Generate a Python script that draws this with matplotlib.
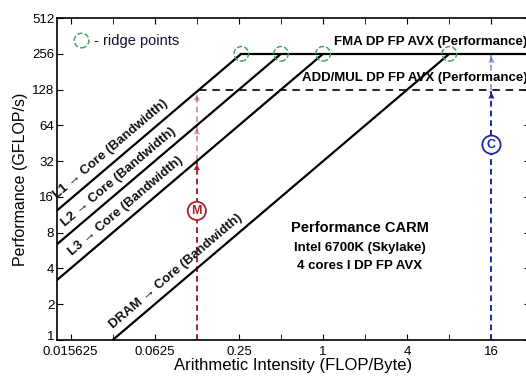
import numpy as np
import matplotlib
matplotlib.use('Agg')
from matplotlib import pyplot as plt
from matplotlib.transforms import ScaledTranslation

plt.rcParams['font.family'] = ['Liberation Sans', 'DejaVu Sans']
narrow = ['Liberation Sans Narrow', 'Liberation Sans', 'DejaVu Sans']

# roofs of the cache-aware roofline model
levels = ['L1', 'L2', 'L3', 'DRAM']
ridge_ai = [0.26, 0.5, 1.0, 8.0]
peak_fma = 256.0
peak_addmul = 128.0
label_start_ai = [0.0137, 0.0156, 0.0176, 0.0346]

# application points
m_ai = 0.125
c_ai = 16.0

xticks = [0.015625, 0.0625, 0.25, 1, 4, 16]
xtick_labels = ['0.015625', '0.0625', '0.25', '1', '4', '16']
yticks = [1, 2, 4, 8, 16, 32, 64, 128, 256, 512]

bw = [peak_fma / r for r in ridge_ai]

fig = plt.figure(figsize=(5.26, 3.76), dpi=100)
ax = fig.add_axes([0.1084, 0.0957, 0.8985, 0.8564])
ax.set_xscale('log', base=2)
ax.set_yscale('log', base=2)
x_lo, x_hi = 0.0125, 30.0
ax.set_xlim(x_lo, x_hi)
ax.set_ylim(1, 512)

# slanted bandwidth roofs up to the FMA peak
for b, r in zip(bw, ridge_ai):
    xs = np.array([x_lo, r])
    ax.plot(xs, b * xs, color='black', lw=1.6, solid_capstyle='butt', zorder=3)

ax.plot([ridge_ai[0], x_hi], [peak_fma, peak_fma], color='black', lw=1.6, zorder=3)
ax.plot([peak_addmul / bw[0], x_hi], [peak_addmul, peak_addmul], color='black',
        lw=1.2, ls=(0, (4.5, 3.5)), zorder=3)

# ridge points
ax.scatter(ridge_ai, [peak_fma] * len(ridge_ai), s=110, facecolors='none',
           edgecolors='#3b9a5c', linewidths=1.0, linestyles='--', zorder=4)
ax.scatter([0.052], [0.93], s=110, facecolors='none', edgecolors='#3b9a5c',
           linewidths=1.0, linestyles='--', transform=ax.transAxes, clip_on=False)
ax.text(0.078, 0.93, '- ridge points', transform=ax.transAxes, fontsize=10.5,
        va='center', color='#111133')

# screen angle of a slope-1 line
p0 = ax.transData.transform((1, 1))
p1 = ax.transData.transform((2, 2))
angle = np.degrees(np.arctan2(p1[1] - p0[1], p1[0] - p0[0]))
nx, ny = -np.sin(np.radians(angle)), np.cos(np.radians(angle))

for name, b, xs in zip(levels, bw, label_start_ai):
    ax.annotate(f'{name} \u2192 Core (Bandwidth)', xy=(xs, b * xs),
                xytext=(nx * 4, ny * 4), textcoords='offset points',
                rotation=angle, rotation_mode='anchor', ha='left', va='bottom',
                fontsize=9.5, fontweight='bold', family=narrow, color='#111111')

ax.text(0.995, peak_fma * 1.12, 'FMA DP FP AVX (Performance)',
        transform=ax.get_yaxis_transform(),
        ha='right', va='bottom', fontsize=9.5, fontweight='bold', family=narrow)
ax.text(0.995, peak_addmul * 1.12, 'ADD/MUL DP FP AVX (Performance)',
        transform=ax.get_yaxis_transform(),
        ha='right', va='bottom', fontsize=9.5, fontweight='bold', family=narrow)

# application M: memory bound, hits the slanted roofs
red = '#a3262b'
m_hits = [b * m_ai for b in bw[:3]][::-1]
ax.plot([m_ai, m_ai], [1, m_hits[0]], color=red, lw=1.4, ls=(0, (3, 2)), zorder=2)
ax.plot([m_ai, m_ai], [m_hits[0], m_hits[-1]], color=red, lw=1.4, ls=(0, (3, 2)),
        alpha=0.45, zorder=2)
for i, y in enumerate(m_hits):
    ax.annotate('', xy=(m_ai, y), xytext=(m_ai, y * 0.8),
                arrowprops=dict(arrowstyle='-|>', color=red, lw=0, mutation_scale=11,
                                alpha=1.0 if i == 0 else 0.45), zorder=4)
ax.text(m_ai, 12.2, 'M', ha='center', va='center', fontsize=9, fontweight='bold',
        family=narrow, color=red,
        bbox=dict(boxstyle='circle,pad=0.25', fc='white', ec=red, lw=1.3), zorder=5)

# application C: compute bound, hits the flat roofs
blue = '#1a2a9c'
ax.plot([c_ai, c_ai], [1, peak_addmul], color=blue, lw=1.4, ls=(0, (3, 2)), zorder=2)
ax.plot([c_ai, c_ai], [peak_addmul, peak_fma], color=blue, lw=1.4, ls=(0, (3, 2)),
        alpha=0.45, zorder=2)
for i, y in enumerate([peak_addmul, peak_fma]):
    ax.annotate('', xy=(c_ai, y), xytext=(c_ai, y * 0.8),
                arrowprops=dict(arrowstyle='-|>', color=blue, lw=0, mutation_scale=11,
                                alpha=1.0 if i == 0 else 0.45), zorder=4)
ax.text(c_ai, 44, 'C', ha='center', va='center', fontsize=9, fontweight='bold',
        family=narrow, color=blue,
        bbox=dict(boxstyle='circle,pad=0.25', fc='white', ec=blue, lw=1.3), zorder=5)

ax.text(0.64, 0.335, 'Performance CARM', transform=ax.transAxes, ha='center',
        fontsize=10.5, fontweight='bold', family=narrow)
ax.text(0.64, 0.277, 'Intel 6700K (Skylake)', transform=ax.transAxes, ha='center',
        fontsize=9.5, fontweight='bold', family=narrow)
ax.text(0.64, 0.219, '4 cores I DP FP AVX', transform=ax.transAxes, ha='center',
        fontsize=9.5, fontweight='bold', family=narrow)

ax.set_xticks(xticks)
ax.set_xticklabels(xtick_labels)
ax.set_xticks([2.0 ** k for k in range(-6, 5)], minor=True)
ax.set_yticks(yticks)
ax.set_yticklabels([str(v) for v in yticks])
ax.yaxis.set_minor_locator(matplotlib.ticker.NullLocator())
ax.tick_params(which='both', direction='in', top=True, right=True, length=4,
               labelsize=9.5)
ax.tick_params(axis='x', pad=4)
ax.tick_params(axis='y', pad=2)
ax.tick_params(which='minor', labelbottom=False)
for s in ax.spines.values():
    s.set_linewidth(1.2)

# lift the bottom "1" a bit so it clears the first x label
lbl = ax.get_yticklabels()[0]
lbl.set_transform(lbl.get_transform() + ScaledTranslation(0, 3 / 72, fig.dpi_scale_trans))

ax.set_xlabel('Arithmetic Intensity (FLOP/Byte)', fontsize=12, labelpad=0)
ax.set_ylabel('Performance (GFLOP/s)', fontsize=11.5, labelpad=3)

fig.savefig('out.png', dpi=100)
